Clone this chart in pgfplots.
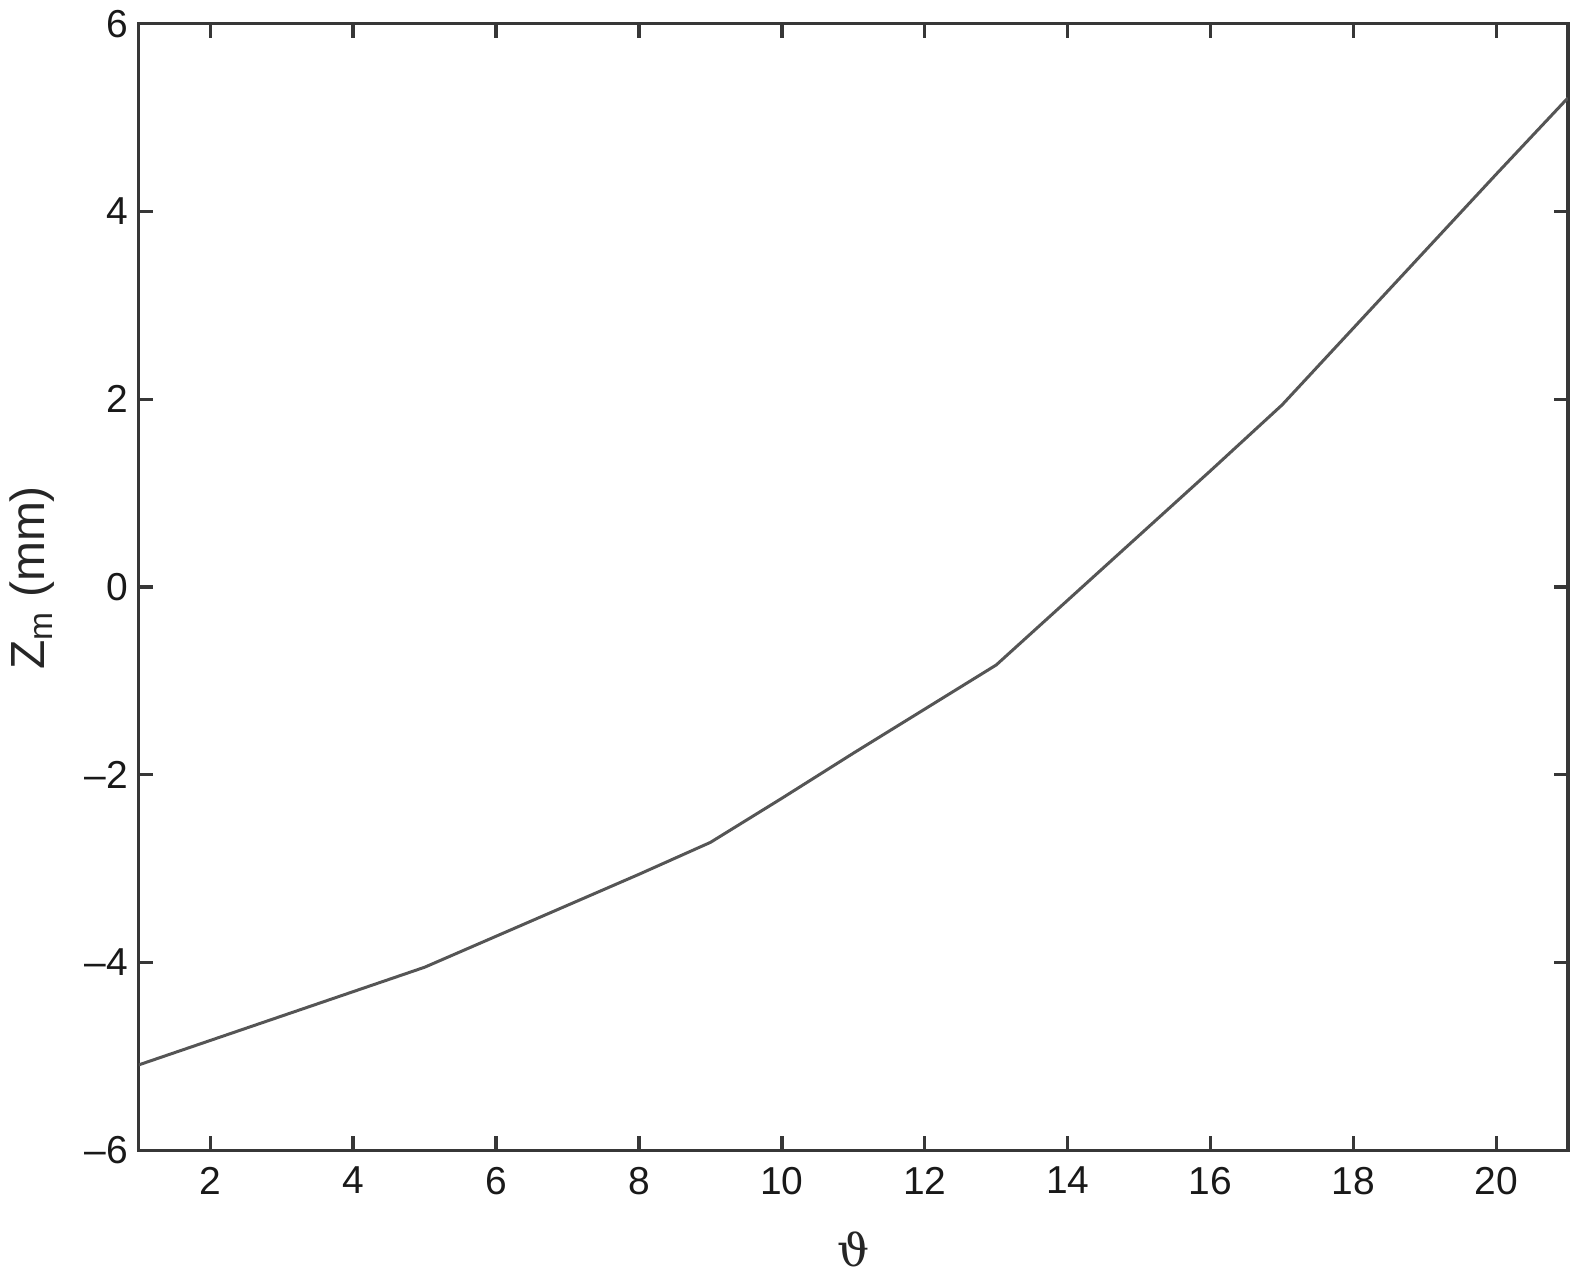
\documentclass[border=0pt]{standalone}
\usepackage{pgfplots}
\pgfplotsset{compat=1.18}
\usepackage{fontspec}
\setmainfont{Liberation Sans}
\setsansfont{Liberation Sans}
\newfontfamily\symfont{DejaVu Serif}
\definecolor{axgray}{RGB}{55,55,55}
\definecolor{lngray}{RGB}{85,85,85}
\begin{document}
\begin{tikzpicture}
\begin{axis}[
  scale only axis,
  width=477pt, height=376pt,
  xmin=1, xmax=21, ymin=-6, ymax=6,
  xtick={2,4,...,20}, ytick={-6,-4,...,6},
  yticklabels={–6,–4,–2,0,2,4,6},
  tick align=inside,
  major tick length=4.7pt,
  axis line style={axgray, line width=1.1pt},
  every tick/.style={axgray, line width=1.1pt},
  /pgf/number format/assume math mode=true,
  ticklabel style={font=\fontsize{13}{15}\selectfont, text=black!90},
  xticklabel style={yshift=-2pt},
  xlabel={\symfont ϑ},
  ylabel={Z\textsubscript{m} (mm)},
  xlabel style={font=\fontsize{15}{17}\selectfont, text=black!85, at={(axis description cs:0.5,-0.088)}, anchor=center},
  ylabel style={font=\fontsize{16}{18}\selectfont, text=black!85, at={(axis description cs:-0.0745,0.508)}, anchor=center},
]
\addplot[lngray, line width=1pt] coordinates {
(1,-5.09) (2,-4.83) (3,-4.57) (4,-4.31) (5,-4.05)
(6,-3.72) (7,-3.39) (8,-3.06) (9,-2.72)
(10,-2.25) (11,-1.77) (12,-1.30) (13,-0.83)
(14,-0.14) (15,0.55) (16,1.24) (17,1.94)
(18,2.76) (19,3.58) (20,4.40) (21,5.21)
};
\end{axis}
\path (current axis.south east) ++(4.7pt,-43.7pt);
\end{tikzpicture}
\end{document}
